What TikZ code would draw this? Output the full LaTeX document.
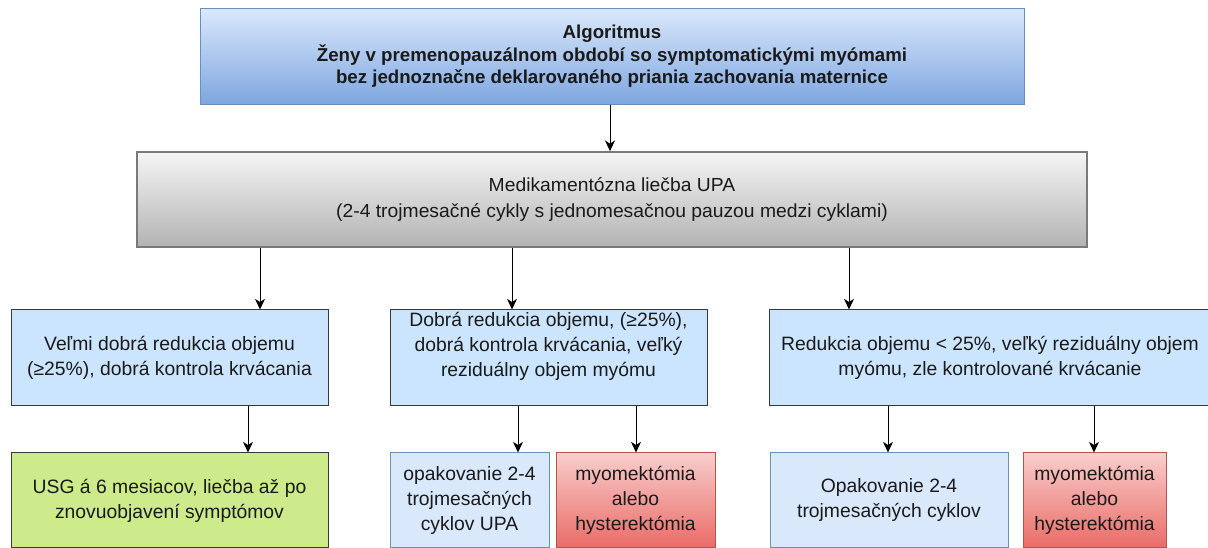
\documentclass[tikz,border=0pt]{standalone}
\usepackage{fontspec}
\setmainfont{Liberation Sans}
\newfontfamily\drugfont{Liberation Sans}[FakeStretch=1.02]
\usetikzlibrary{arrows.meta}

\definecolor{topA}{HTML}{DAE8FC}
\definecolor{topB}{HTML}{7EA6E0}
\definecolor{topLine}{HTML}{6C8EBF}
\definecolor{grayA}{HTML}{F5F5F5}
\definecolor{grayB}{HTML}{B3B3B3}
\definecolor{grayLine}{HTML}{7A7A7A}
\definecolor{midFill}{HTML}{CCE5FF}
\definecolor{darkLine}{HTML}{36393D}
\definecolor{lowFill}{HTML}{DAE8FC}
\definecolor{greenFill}{HTML}{CDEB8B}
\definecolor{redA}{HTML}{F8CECC}
\definecolor{redB}{HTML}{EA6B66}
\definecolor{redLine}{HTML}{B85450}
\definecolor{txt}{HTML}{1A1A1A}

\tikzset{
  box/.style={rectangle, inner sep=0pt, line width=0.75pt, align=center,
    text=txt, font=\fontsize{14.5}{18.75}\selectfont},
  headbox/.style={box, top color=topA, bottom color=topB, draw=topLine,
    font=\bfseries\fontsize{14}{16.9}\selectfont},
  drugbox/.style={box, top color=grayA, bottom color=grayB, draw=grayLine,
    line width=1.3pt, font=\drugfont\fontsize{14.2}{19.5}\selectfont},
  resultbox/.style={box, fill=midFill, draw=darkLine},
  repeatbox/.style={box, fill=lowFill, draw=topLine},
  waitbox/.style={box, fill=greenFill, draw=darkLine},
  surgbox/.style={box, top color=redA, bottom color=redB, draw=redLine},
  arr/.style={line width=0.75pt, -{Stealth[length=8pt,width=7.5pt,inset=2.4pt]}}
}

\begin{document}
\begin{tikzpicture}[x=0.75pt,y=-0.75pt]
\useasboundingbox (0,0) rectangle (1208,548);

% top: algorithm header
\node[headbox, minimum width=824*0.75pt, minimum height=95.5*0.75pt] (head) at (612,56.5)
  {Algoritmus\\Ženy v premenopauzálnom období so symptomatickými myómami\\bez jednoznačne deklarovaného priania zachovania maternice};

% drug therapy
\node[drugbox, minimum width=950*0.75pt, minimum height=95*0.75pt] (drug) at (612,199.5)
  {Medikamentózna liečba UPA\\(2-4 trojmesačné cykly s jednomesačnou pauzou medzi cyklami)};

% outcomes of therapy
\node[resultbox, minimum width=317*0.75pt, minimum height=96*0.75pt] (good) at (169.5,358)
  {Veľmi dobrá redukcia objemu\\(≥25\%), dobrá kontrola krvácania};
\node[resultbox, minimum width=317*0.75pt, minimum height=96*0.75pt] (mid) at (548.5,358)
  {Dobrá redukcia objemu, (≥25\%),\\dobrá kontrola krvácania, veľký\\reziduálny objem myómu\\[2pt]};
\node[resultbox, minimum width=442*0.75pt, minimum height=96*0.75pt] (poor) at (990,358)
  {Redukcia objemu < 25\%, veľký reziduálny objem\\myómu, zle kontrolované krvácanie};

% follow-up steps
\node[waitbox, minimum width=317*0.75pt, minimum height=95*0.75pt] (usg) at (169.5,500.5)
  {USG á 6 mesiacov, liečba až po\\znovuobjavení symptómov};
\node[repeatbox, minimum width=159*0.75pt, minimum height=95*0.75pt] (rep1) at (469.5,500.5)
  {opakovanie 2-4\\trojmesačných\\cyklov UPA};
\node[surgbox, minimum width=159*0.75pt, minimum height=95*0.75pt] (surg1) at (635.5,500.5)
  {myomektómia\\alebo\\hysterektómia};
\node[repeatbox, minimum width=238*0.75pt, minimum height=95*0.75pt] (rep2) at (889,500.5)
  {Opakovanie 2-4\\trojmesačných cyklov};
\node[surgbox, minimum width=143*0.75pt, minimum height=95*0.75pt] (surg2) at (1094.5,500.5)
  {myomektómia\\alebo\\hysterektómia};

% connectors
\draw[arr] (head.south -| 610,0) -- (drug.north -| 610,0);
\draw[arr] (drug.south -| 260,0) -- (good.north -| 260,0);
\draw[arr] (drug.south -| 512,0) -- (mid.north -| 512,0);
\draw[arr] (drug.south -| 849,0) -- (poor.north -| 849,0);
\draw[arr] (good.south -| 248,0) -- (usg.north -| 248,0);
\draw[arr] (mid.south -| 518,0) -- (rep1.north -| 518,0);
\draw[arr] (mid.south -| 636,0) -- (surg1.north -| 636,0);
\draw[arr] (poor.south -| 888,0) -- (rep2.north -| 888,0);
\draw[arr] (poor.south -| 1094,0) -- (surg2.north -| 1094,0);
\end{tikzpicture}
\end{document}
